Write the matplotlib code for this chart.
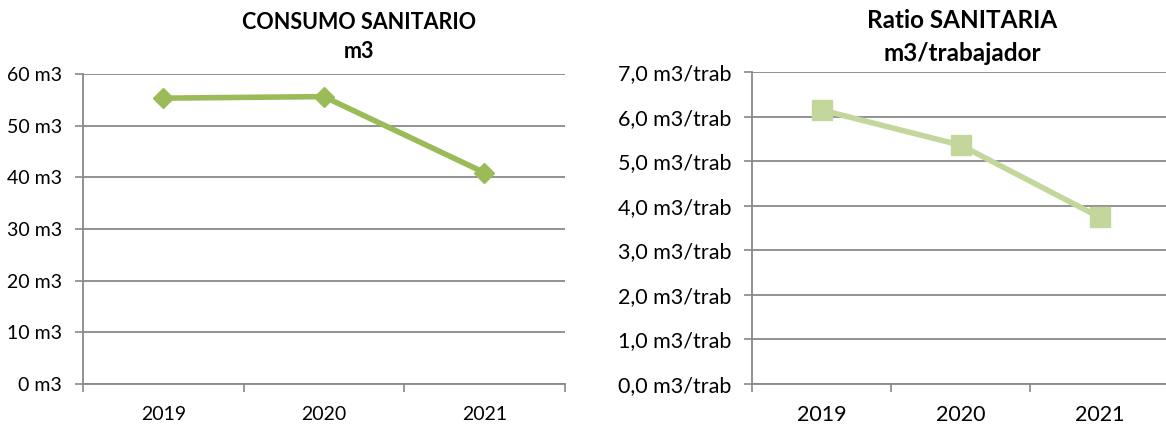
import matplotlib.pyplot as plt
from matplotlib.ticker import FuncFormatter

plt.rcParams['font.family'] = ['Lato', 'DejaVu Sans']

years = ['2019', '2020', '2021']
consumo_m3 = [55.3, 55.6, 40.9]
ratio_m3_trab = [6.15, 5.36, 3.74]

GRID = '#898989'


def style_axes(ax, ymax, step, fmt, fontsize, xpad):
    ax.set_xlim(0, 3)
    ax.set_ylim(0, ymax)
    ax.set_yticks([i * step for i in range(int(round(ymax / step)) + 1)])
    ax.yaxis.set_major_formatter(FuncFormatter(fmt))
    ax.set_xticks([0, 1, 2, 3])
    ax.set_xticklabels([])
    ax.set_xticks([0.5, 1.5, 2.5], minor=True)
    ax.set_xticklabels(years, minor=True)
    ax.tick_params(axis='x', which='minor', length=0, pad=xpad, labelsize=fontsize)
    ax.tick_params(axis='x', which='major', length=6, width=1.2, color=GRID, direction='out')
    ax.tick_params(axis='y', length=6, width=1.2, color=GRID, labelsize=fontsize, pad=9)
    ax.grid(axis='y', color=GRID, linewidth=1.3)
    ax.set_axisbelow(True)
    for s in ['top', 'right']:
        ax.spines[s].set_visible(False)
    for s in ['left', 'bottom']:
        ax.spines[s].set_color(GRID)
        ax.spines[s].set_linewidth(1.3)


fig = plt.figure(figsize=(11.66, 4.26), dpi=100)

ax1 = fig.add_axes([0.0712, 0.0986, 0.413, 0.728])
ax1.plot([0.5, 1.5, 2.5], consumo_m3, color='#9BBB59', linewidth=4,
         marker='D', markersize=10, clip_on=False)
style_axes(ax1, 60, 10, lambda v, p: f'{v:.0f} m3', 14, 16)
fig.text(0.308, 0.947, 'CONSUMO SANITARIO', ha='center', va='center',
         fontsize=15.5, fontweight='bold')
fig.text(0.308, 0.878, 'm3', ha='center', va='center',
         fontsize=15.5, fontweight='bold')

ax2 = fig.add_axes([0.645, 0.0986, 0.358, 0.732])
ax2.plot([0.5, 1.5, 2.5], ratio_m3_trab, color='#C3D69B', linewidth=4,
         marker='s', markersize=14, clip_on=False)
style_axes(ax2, 7, 1, lambda v, p: f'{v:.1f}'.replace('.', ',') + ' m3/trab', 15.5, 15)
fig.text(0.825, 0.952, 'Ratio SANITARIA', ha='center', va='center',
         fontsize=17.5, fontweight='bold')
fig.text(0.825, 0.874, 'm3/trabajador', ha='center', va='center',
         fontsize=17.5, fontweight='bold')

fig.savefig('out.png', dpi=100)
